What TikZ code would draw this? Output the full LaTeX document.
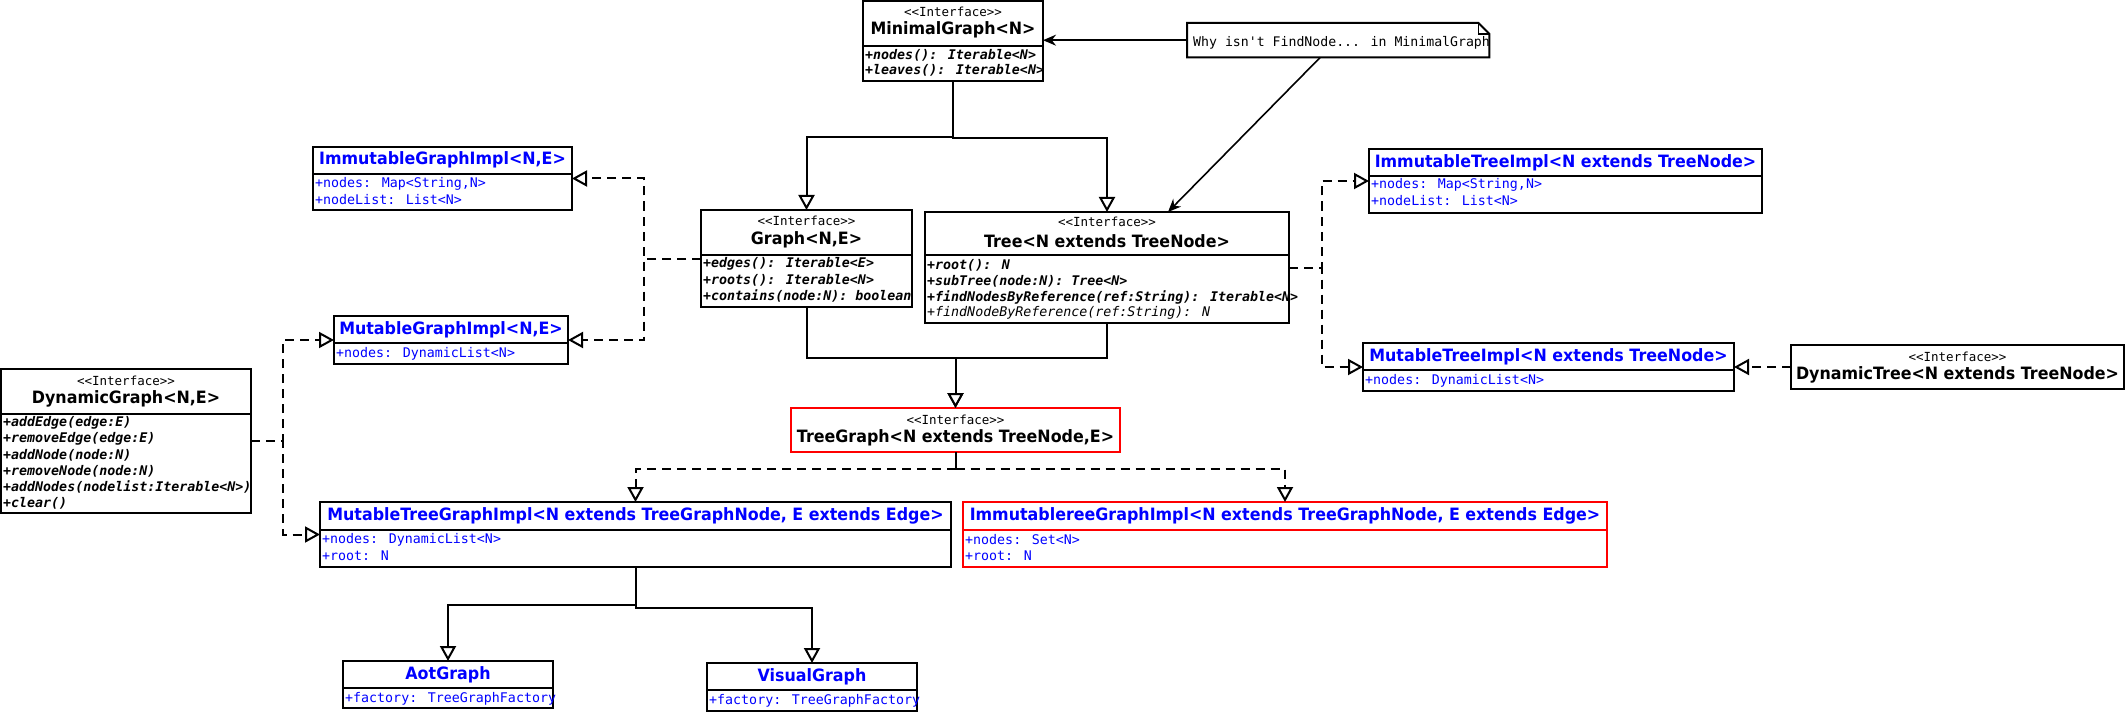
\documentclass[tikz,border=0pt]{standalone}
\usepackage{fontspec}
\usetikzlibrary{arrows.meta}
\newfontfamily\titlefont[FakeStretch=0.935]{DejaVu Sans}
\newfontfamily\monofont{DejaVu Sans Mono}
\definecolor{umlblue}{RGB}{0,0,255}
\definecolor{umlred}{RGB}{255,0,0}
\tikzset{
  cls/.style={draw=black, line width=2pt, fill=white, inner sep=0pt, outer sep=0pt, anchor=north west, rectangle},
  redcls/.style={cls, draw=umlred},
  divider/.style={line width=2pt},
  reddivider/.style={line width=2pt, draw=umlred},
  stereo/.style={font={\monofont\fontsize{12.5}{14}\selectfont}, inner sep=0pt},
  ttl/.style={font={\titlefont\bfseries\fontsize{17}{19}\selectfont}, inner sep=0pt},
  bttl/.style={ttl, text=umlblue},
  attr/.style={font={\monofont\fontsize{13.3}{15}\selectfont}, inner sep=0pt, anchor=west, text=umlblue},
  oper/.style={font={\monofont\bfseries\itshape\fontsize{13.3}{15}\selectfont}, inner sep=0pt, anchor=west},
  operlight/.style={font={\monofont\itshape\fontsize{13.3}{15}\selectfont}, inner sep=0pt, anchor=west},
  notetext/.style={font={\monofont\fontsize{13.2}{15}\selectfont}, inner sep=0pt, anchor=west},
  gen/.style={line width=2pt, -{Triangle[length=15pt, width=16pt, fill=white, line width=2pt]}},
  real/.style={gen, dash pattern=on 9pt off 6pt},
  assoc/.style={line width=2pt, -{Stealth[length=13pt, width=11pt]}},
  link/.style={line width=2pt}
}
\begin{document}
\begin{tikzpicture}[x=1pt, y=-1pt]
\useasboundingbox (0,0) rectangle (2127,714);

% ---------------- MinimalGraph
\node[cls, minimum width=180pt, minimum height=80pt] (mg) at (863,1) {};
\draw[divider] (863,46) -- (1043,46);
\node[stereo] (mgS) at (953,12) {<<Interface>>};
\node[ttl] (mgT) at (953,30) {MinimalGraph<N>};
\node[oper] (mgO1) at (865,55) {+nodes(): Iterable<N>};
\node[oper] (mgO2) at (865,70) {+leaves(): Iterable<N>};

% ---------------- Note
\node[rectangle, inner sep=0pt, minimum width=302pt, minimum height=34pt, anchor=north west] (note) at (1187,23) {};
\draw[line width=2pt, fill=white] (note.north west) -- ([xshift=-11pt]note.north east) -- ([yshift=-11pt]note.north east) -- (note.south east) -- (note.south west) -- cycle;
\draw[line width=1.5pt] ([xshift=-11pt]note.north east) -- ([xshift=-11pt,yshift=-11pt]note.north east) -- ([yshift=-11pt]note.north east);
\node[notetext] (noteT) at (1193,43) {Why isn't FindNode... in MinimalGraph};

% ---------------- ImmutableGraphImpl
\node[cls, minimum width=259pt, minimum height=63pt] (igi) at (313,147) {};
\draw[divider] (313,174) -- (572,174);
\node[bttl] (igiT) at (442.5,160) {ImmutableGraphImpl<N,E>};
\node[attr] (igiA1) at (315,184) {+nodes: Map<String,N>};
\node[attr] (igiA2) at (315,200) {+nodeList: List<N>};

% ---------------- Graph
\node[cls, minimum width=211pt, minimum height=97pt] (graph) at (701,210) {};
\draw[divider] (701,255) -- (912,255);
\node[stereo] (graphS) at (806.5,221) {<<Interface>>};
\node[ttl] (graphT) at (806.5,240) {Graph<N,E>};
\node[oper] (graphO1) at (703,264) {+edges(): Iterable<E>};
\node[oper] (graphO2) at (703,280) {+roots(): Iterable<N>};
\node[oper] (graphO3) at (703,296) {+contains(node:N): boolean};

% ---------------- Tree
\node[cls, minimum width=364pt, minimum height=111pt] (tree) at (925,212) {};
\draw[divider] (925,255) -- (1289,255);
\node[stereo] (treeS) at (1107,222) {<<Interface>>};
\node[ttl] (treeT) at (1107,241) {Tree<N extends TreeNode>};
\node[oper] (treeO1) at (927,265) {+root(): N};
\node[oper] (treeO2) at (927,281) {+subTree(node:N): Tree<N>};
\node[oper] (treeO3) at (927,297) {+findNodesByReference(ref:String): Iterable<N>};
\node[operlight] (treeO4) at (927,313) {+findNodeByReference(ref:String): N};

% ---------------- ImmutableTreeImpl
\node[cls, minimum width=393pt, minimum height=64pt] (iti) at (1369,149) {};
\draw[divider] (1369,176) -- (1762,176);
\node[bttl] (itiT) at (1565.5,163) {ImmutableTreeImpl<N extends TreeNode>};
\node[attr] (itiA1) at (1371,185) {+nodes: Map<String,N>};
\node[attr] (itiA2) at (1371,201) {+nodeList: List<N>};

% ---------------- MutableGraphImpl
\node[cls, minimum width=234pt, minimum height=48pt] (mgi) at (334,316) {};
\draw[divider] (334,343) -- (568,343);
\node[bttl] (mgiT) at (451,329.5) {MutableGraphImpl<N,E>};
\node[attr] (mgiA1) at (336,354) {+nodes: DynamicList<N>};

% ---------------- MutableTreeImpl
\node[cls, minimum width=371pt, minimum height=48pt] (mti) at (1363,343) {};
\draw[divider] (1363,370) -- (1734,370);
\node[bttl] (mtiT) at (1548.5,357) {MutableTreeImpl<N extends TreeNode>};
\node[attr] (mtiA1) at (1365,381) {+nodes: DynamicList<N>};

% ---------------- DynamicTree
\node[cls, minimum width=333pt, minimum height=44pt] (dt) at (1791,345) {};
\node[stereo] (dtS) at (1957.5,357) {<<Interface>>};
\node[ttl] (dtT) at (1957.5,374.5) {DynamicTree<N extends TreeNode>};

% ---------------- DynamicGraph
\node[cls, minimum width=250pt, minimum height=144pt] (dg) at (1,369) {};
\draw[divider] (1,414) -- (251,414);
\node[stereo] (dgS) at (126,381) {<<Interface>>};
\node[ttl] (dgT) at (126,399) {DynamicGraph<N,E>};
\node[oper] (dgO1) at (3,423) {+addEdge(edge:E)};
\node[oper] (dgO2) at (3,439) {+removeEdge(edge:E)};
\node[oper] (dgO3) at (3,455) {+addNode(node:N)};
\node[oper] (dgO4) at (3,471) {+removeNode(node:N)};
\node[oper] (dgO5) at (3,487) {+addNodes(nodelist:Iterable<N>)};
\node[oper] (dgO6) at (3,503) {+clear()};

% ---------------- TreeGraph
\node[redcls, minimum width=329pt, minimum height=44pt] (tg) at (791,408) {};
\node[stereo] (tgS) at (955.5,420) {<<Interface>>};
\node[ttl] (tgT) at (955.5,438) {TreeGraph<N extends TreeNode,E>};

% ---------------- MutableTreeGraphImpl
\node[cls, minimum width=631pt, minimum height=65pt] (mtgi) at (320,502) {};
\draw[divider] (320,530) -- (951,530);
\node[bttl] (mtgiT) at (635.5,516) {MutableTreeGraphImpl<N extends TreeGraphNode, E extends Edge>};
\node[attr] (mtgiA1) at (322,540) {+nodes: DynamicList<N>};
\node[attr] (mtgiA2) at (322,556) {+root: N};

% ---------------- ImmutablereeGraphImpl
\node[redcls, minimum width=644pt, minimum height=65pt] (itgi) at (963,502) {};
\draw[reddivider] (963,530) -- (1607,530);
\node[bttl] (itgiT) at (1285,516) {ImmutablereeGraphImpl<N extends TreeGraphNode, E extends Edge>};
\node[attr] (itgiA1) at (965,540) {+nodes: Set<N>};
\node[attr] (itgiA2) at (965,556) {+root: N};

% ---------------- AotGraph
\node[cls, minimum width=210pt, minimum height=47pt] (aot) at (343,661) {};
\draw[divider] (343,688) -- (553,688);
\node[bttl] (aotT) at (448,675) {AotGraph};
\node[attr] (aotA1) at (345,698.5) {+factory: TreeGraphFactory};

% ---------------- VisualGraph
\node[cls, minimum width=210pt, minimum height=48pt] (vg) at (707,663) {};
\draw[divider] (707,690) -- (917,690);
\node[bttl] (vgT) at (812,677) {VisualGraph};
\node[attr] (vgA1) at (709,701) {+factory: TreeGraphFactory};

% ================= connectors
% generalisations from MinimalGraph
\draw[gen] (mg.south) -- ++(0,56) -| (graph.north);
\draw[gen] (mg.south) -- ++(0,57) -| (tree.north);
% Graph, Tree -> TreeGraph
\draw[gen] (graph.south) -- ++(0,51) -| (tg.north);
\draw[gen] (tree.south) -- ++(0,35) -| (tg.north);
% realisations of Graph
\draw[real] (graph.west) -- ++(-57,0) |- (igi.east);
\draw[real] (graph.west) -- ++(-57,0) |- (mgi.east);
% realisations of Tree
\draw[real] (tree.east) -- ++(33,0) |- (iti.west);
\draw[real] (tree.east) -- ++(33,0) |- (mti.west);
% DynamicTree -> MutableTreeImpl
\draw[real] (dt.west) -- (mti.east);
% DynamicGraph realisations
\draw[real] (dg.east) -- ++(32,0) |- (mgi.west);
\draw[real] (dg.east) -- ++(32,0) |- (mtgi.west);
% TreeGraph realisations
\draw[link] (tg.south) -- ++(0,17) coordinate (tgj);
\draw[real] (tgj) -| (mtgi.north);
\draw[real] (tgj) -| (itgi.north);
% MutableTreeGraphImpl -> AotGraph, VisualGraph
\draw[gen] (mtgi.south) -- ++(0,38) -| (aot.north);
\draw[gen] (mtgi.south) -- ++(0,41) -| (vg.north);
% note arrows
\draw[assoc] (note.west) -- (note.west -| mg.east);
\draw[assoc, line width=1.6pt] ([xshift=-18pt]note.south) -- ([xshift=61pt]tree.north);
\end{tikzpicture}
\end{document}
